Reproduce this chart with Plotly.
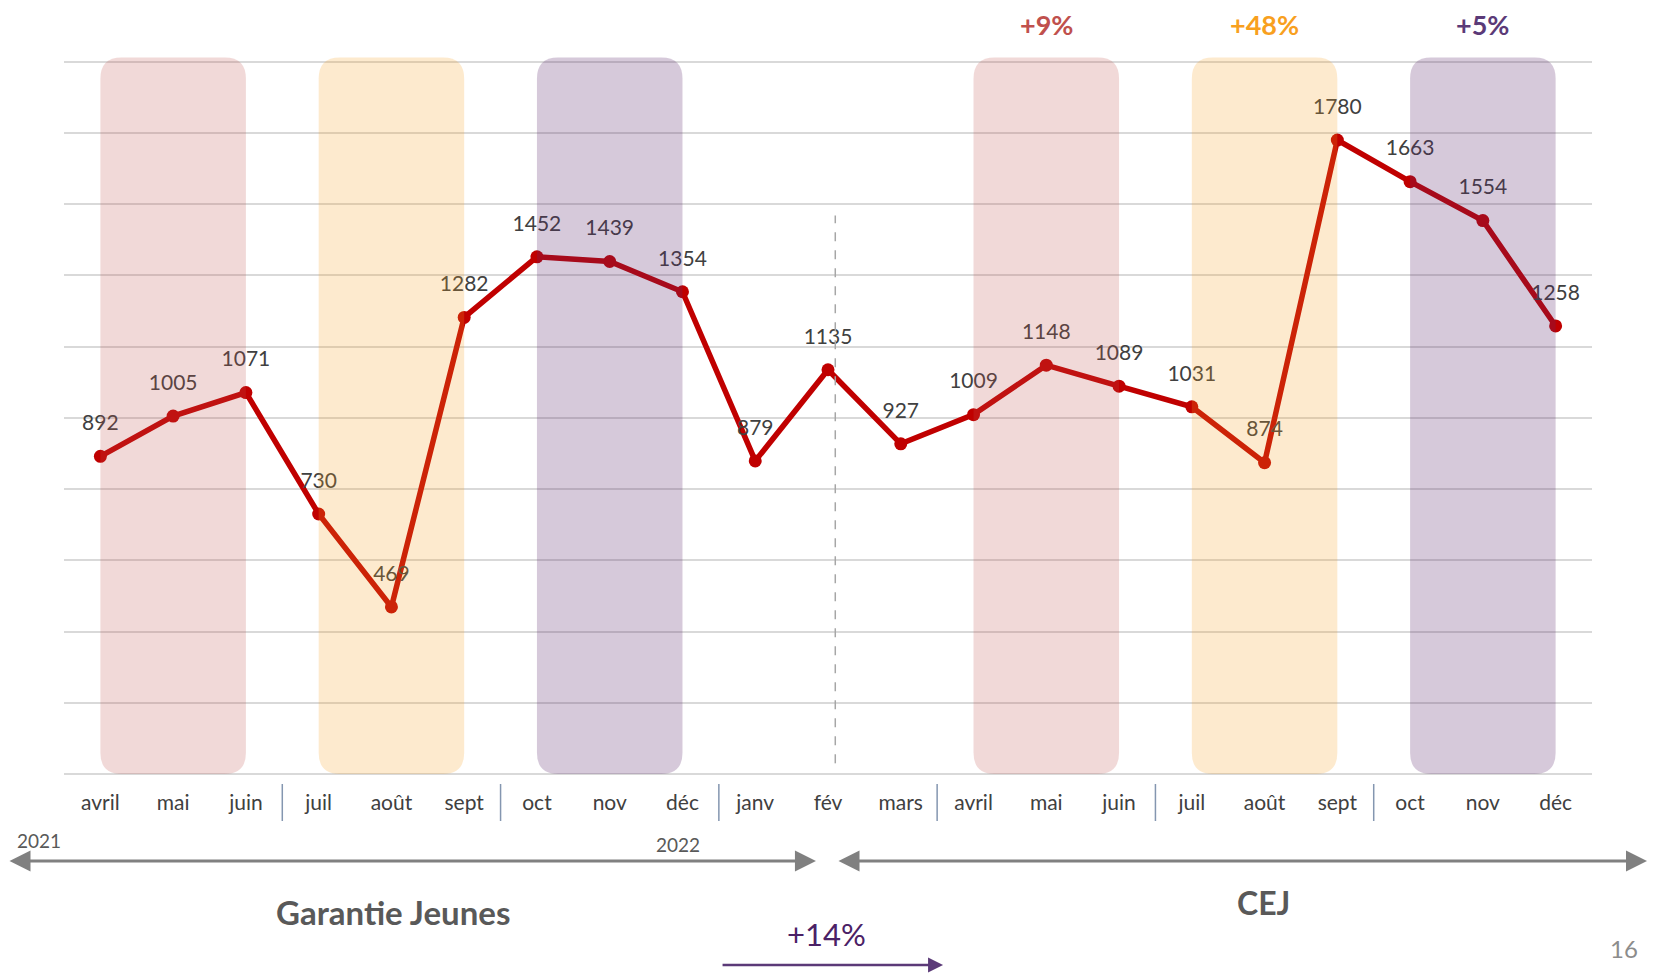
import plotly.graph_objects as go

# Monthly entries, April 2021 -> December 2022
months = ["avril", "mai", "juin", "juil", "août", "sept", "oct", "nov", "déc",
          "janv", "fév", "mars", "avril", "mai", "juin", "juil", "août", "sept",
          "oct", "nov", "déc"]
entries = [892, 1005, 1071, 730, 469, 1282, 1452, 1439, 1354, 879, 1135, 927,
           1009, 1148, 1089, 1031, 874, 1780, 1663, 1554, 1258]

# quarter highlight bands (start / end month index)
band_start = [0, 3, 6, 12, 15, 18]
band_end = [2, 5, 8, 14, 17, 20]
band_kind = ["q2", "q3", "q4", "q2", "q3", "q4"]
# year-on-year growth shown above the CEJ bands
growth_labels = ["", "", "", "+9%", "+48%", "+5%"]
quarter_breaks = [2.5, 5.5, 8.5, 11.5, 14.5, 17.5]
switch_month = 10.1  # Garantie Jeunes -> CEJ

BAND_FILL = {
    "q2": "rgba(192, 80, 77, 0.22)",
    "q3": "rgba(247, 160, 30, 0.22)",
    "q4": "rgba(91, 39, 107, 0.25)",
}
GROWTH_COLOR = {"q2": "#C0504D", "q3": "#F8A01E", "q4": "#5B3A78"}
LINE_RED = "#C00000"
FONT = "Lato, 'Open Sans', sans-serif"

x_idx = list(range(len(months)))

fig = go.Figure()

fig.add_trace(go.Scatter(
    x=x_idx,
    y=entries,
    mode="lines+markers",
    line=dict(color=LINE_RED, width=5.5),
    marker=dict(color=LINE_RED, size=13),
    hoverinfo="x+y",
    showlegend=False,
))
# value labels (invisible big marker just to push the text up a bit)
fig.add_trace(go.Scatter(
    x=x_idx,
    y=entries,
    mode="markers+text",
    marker=dict(size=32, color="rgba(0,0,0,0)"),
    text=[str(v) for v in entries],
    textposition="top center",
    textfont=dict(family=FONT, size=21, color="#404040"),
    cliponaxis=False,
    hoverinfo="skip",
    showlegend=False,
))


def rounded_band(x0, x1, y0, y1, rx=0.29, ry=60):
    return (f"M {x0 + rx},{y0} L {x1 - rx},{y0} Q {x1},{y0} {x1},{y0 + ry} "
            f"L {x1},{y1 - ry} Q {x1},{y1} {x1 - rx},{y1} "
            f"L {x0 + rx},{y1} Q {x0},{y1} {x0},{y1 - ry} "
            f"L {x0},{y0 + ry} Q {x0},{y0} {x0 + rx},{y0} Z")


for s, e, k, g in zip(band_start, band_end, band_kind, growth_labels):
    fig.add_shape(type="path", path=rounded_band(s, e, 0, 2012),
                  xref="x", yref="y", fillcolor=BAND_FILL[k],
                  line=dict(width=0), layer="above")
    if g:
        fig.add_annotation(x=(s + e) / 2, y=1.036, xref="x", yref="paper",
                           xanchor="center", yanchor="middle",
                           text=f"<b>{g}</b>", showarrow=False,
                           font=dict(family=FONT, size=27, color=GROWTH_COLOR[k]))

# dashed divider between the two programmes
fig.add_shape(type="line", x0=switch_month, x1=switch_month, y0=30, y1=1568,
              xref="x", yref="y", line=dict(color="#A6A6A6", width=1.5, dash="dash"))

# quarter separators under the month labels
for qb in quarter_breaks:
    fig.add_shape(type="line", x0=qb, x1=qb, y0=-0.0138, y1=-0.065,
                  xref="x", yref="paper", line=dict(color="#8496B0", width=1.5))

# programme arrows
fig.add_annotation(x=0.4921, y=-0.1203, xref="paper", yref="paper", text="",
                   showarrow=True, ax=-811, ay=0, arrowside="end+start",
                   arrowhead=2, arrowsize=1.4, arrowwidth=3, arrowcolor="#808080")
fig.add_annotation(x=1.036, y=-0.1203, xref="paper", yref="paper", text="",
                   showarrow=True, ax=-810, ay=0, arrowside="end+start",
                   arrowhead=2, arrowsize=1.4, arrowwidth=3, arrowcolor="#808080")
fig.add_annotation(x=0.5753, y=-0.2642, xref="paper", yref="paper", text="",
                   showarrow=True, ax=-222, ay=0, arrowhead=2, arrowsize=1.2,
                   arrowwidth=2.5, arrowcolor="#5B3A78")

texts = [
    ("2021", -0.0164, -0.0913, 19, "#595959", False),
    ("2022", 0.4018, -0.0982, 19, "#595959", False),
    ("Garantie Jeunes", 0.2153, -0.1909, 33, "#595959", True),
    ("CEJ", 0.7853, -0.1784, 32, "#595959", True),
    ("+14%", 0.4993, -0.2213, 31, "#4B2166", False),
    ("16", 1.0209, -0.2407, 24, "#8C8C8C", False),
]
for t, tx, ty, sz, col, bold in texts:
    fig.add_annotation(x=tx, y=ty, xref="paper", yref="paper",
                       xanchor="center", yanchor="middle",
                       text=f"<b>{t}</b>" if bold else t, showarrow=False,
                       font=dict(family=FONT, size=sz, color=col))

fig.update_layout(
    width=1656,
    height=973,
    margin=dict(l=56, r=72, t=43, b=207),
    plot_bgcolor="white",
    paper_bgcolor="white",
    font=dict(family=FONT, color="#404040"),
    showlegend=False,
)
fig.update_xaxes(
    range=[-0.5, 20.5],
    tickvals=x_idx,
    ticktext=months,
    tickfont=dict(family=FONT, size=21, color="#404040"),
    ticks="",
    ticklabelstandoff=14,
    showgrid=False,
    zeroline=False,
    showline=False,
)
fig.update_yaxes(
    range=[0, 2030],
    tick0=0,
    dtick=200,
    showticklabels=False,
    showgrid=True,
    gridcolor="#D9D9D9",
    gridwidth=2,
    zeroline=True,
    zerolinecolor="#D9D9D9",
    zerolinewidth=2,
)

fig.write_html("out.html")
